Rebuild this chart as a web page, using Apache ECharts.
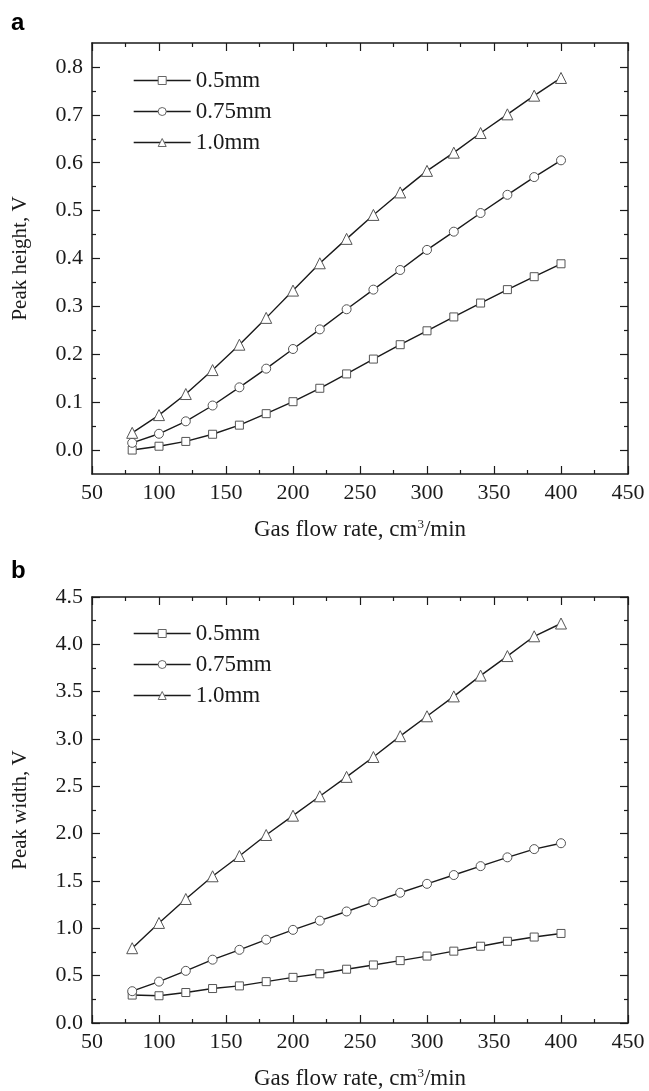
<!DOCTYPE html>
<html>
<head>
<meta charset="utf-8">
<script src="https://cdn.jsdelivr.net/npm/echarts@6/dist/echarts.min.js"></script>
<style>
  html, body { margin: 0; padding: 0; background: #fff; }
  #chart { width: 649px; height: 1091px; }
</style>
</head>
<body>
<div id="chart"></div>
<script>
// gas flow rate, cm3/min
const flowRates = [80, 100, 120, 140, 160, 180, 200, 220, 240, 260, 280, 300, 320, 340, 360, 380, 400];
const seriesNames = ['0.5mm', '0.75mm', '1.0mm'];

// panel a: peak height, V
const heightSmall = [0.0, 0.008, 0.018, 0.033, 0.052, 0.076, 0.101, 0.129, 0.159, 0.19, 0.22, 0.249, 0.278, 0.307, 0.335, 0.362, 0.389];
const heightMid = [0.015, 0.034, 0.06, 0.093, 0.131, 0.17, 0.211, 0.252, 0.294, 0.335, 0.376, 0.418, 0.456, 0.495, 0.533, 0.57, 0.605];
const heightLarge = [0.036, 0.073, 0.117, 0.167, 0.22, 0.276, 0.333, 0.39, 0.441, 0.491, 0.538, 0.583, 0.621, 0.662, 0.701, 0.74, 0.777];

// panel b: peak width, V
const widthSmall = [0.295, 0.288, 0.322, 0.364, 0.392, 0.437, 0.482, 0.52, 0.568, 0.613, 0.659, 0.707, 0.759, 0.811, 0.863, 0.908, 0.946];
const widthMid = [0.336, 0.437, 0.551, 0.669, 0.773, 0.88, 0.984, 1.081, 1.178, 1.276, 1.376, 1.47, 1.563, 1.657, 1.75, 1.837, 1.899];
const widthLarge = [0.79, 1.057, 1.31, 1.55, 1.764, 1.986, 2.19, 2.395, 2.6, 2.81, 3.03, 3.24, 3.45, 3.67, 3.876, 4.085, 4.22];

// tick labels
const heightTicks = [0.0, 0.1, 0.2, 0.3, 0.4, 0.5, 0.6, 0.7, 0.8];
const heightMinorTicks = [0.05, 0.15, 0.25, 0.35, 0.45, 0.55, 0.65, 0.75];

const serif = '"Liberation Serif", "DejaVu Serif", serif';
const ink = '#1a1a1a';
const symbols = [
  { symbol: 'rect', size: 8 },
  { symbol: 'circle', size: 9 },
  { symbol: 'triangle', size: 11 },
];

const chart = echarts.init(document.getElementById('chart'));

const gridA = { left: 92, top: 43, width: 536, height: 431 };
const gridB = { left: 92, top: 597, width: 536, height: 431 };

const axisLine = { show: true, onZero: false, lineStyle: { color: ink, width: 1.5 } };
const tickStyle = { color: ink, width: 1.2 };

function xAxis(gridIndex, position) {
  const bottom = position === 'bottom';
  return {
    type: 'value',
    gridIndex,
    position,
    min: 50,
    max: 450,
    interval: 50,
    axisLine,
    axisTick: { show: true, inside: true, length: 8, lineStyle: tickStyle },
    minorTick: { show: true, splitNumber: 2, length: 4, lineStyle: tickStyle },
    axisLabel: {
      show: bottom,
      margin: 8,
      color: ink,
      fontFamily: serif,
      fontSize: 22,
    },
    splitLine: { show: false },
    name: bottom ? 'Gas flow rate, cm{sup|3}/min' : '',
    nameLocation: 'middle',
    nameGap: 44,
    nameTextStyle: {
      color: ink,
      fontFamily: serif,
      fontSize: 23,
      rich: { sup: { fontFamily: serif, fontSize: 13, verticalAlign: 'top', color: ink } },
    },
  };
}

// panel a left/right axes: major ticks with labels, plus a minor-tick overlay
function heightAxis(position, minor) {
  const left = position === 'left';
  return {
    type: 'value',
    gridIndex: 0,
    position,
    min: -0.05,
    max: 0.85,
    axisLine: minor ? { show: false } : axisLine,
    axisTick: {
      show: true,
      inside: true,
      length: minor ? 4 : 8,
      lineStyle: tickStyle,
      customValues: minor ? heightMinorTicks : heightTicks,
    },
    axisLabel: {
      show: left && !minor,
      customValues: heightTicks,
      formatter: (v) => v.toFixed(1),
      margin: 9,
      color: ink,
      fontFamily: serif,
      fontSize: 22,
    },
    splitLine: { show: false },
    name: left && !minor ? 'Peak height, V' : '',
    nameLocation: 'middle',
    nameGap: 61,
    nameTextStyle: { color: ink, fontFamily: serif, fontSize: 21 },
  };
}

function widthAxis(position) {
  const left = position === 'left';
  return {
    type: 'value',
    gridIndex: 1,
    position,
    min: 0,
    max: 4.5,
    interval: 0.5,
    axisLine,
    axisTick: { show: true, inside: true, length: 8, lineStyle: tickStyle },
    minorTick: { show: true, splitNumber: 2, length: 4, lineStyle: tickStyle },
    axisLabel: {
      show: left,
      formatter: (v) => v.toFixed(1),
      margin: 9,
      color: ink,
      fontFamily: serif,
      fontSize: 22,
    },
    splitLine: { show: false },
    name: left ? 'Peak width, V' : '',
    nameLocation: 'middle',
    nameGap: 61,
    nameTextStyle: { color: ink, fontFamily: serif, fontSize: 21 },
  };
}

function lineSeries(name, idx, values, xAxisIndex, yAxisIndex) {
  return {
    type: 'line',
    name,
    xAxisIndex,
    yAxisIndex,
    data: flowRates.map((x, i) => [x, values[i]]),
    symbol: symbols[idx].symbol,
    symbolSize: symbols[idx].size,
    showAllSymbol: true,
    lineStyle: { color: ink, width: 1.4 },
    itemStyle: { color: '#fff', borderColor: '#555', borderWidth: 1 },
    emphasis: { disabled: true },
    animation: false,
  };
}

function legend(top) {
  return {
    orient: 'vertical',
    left: 128,
    top,
    itemWidth: 57,
    itemHeight: 10,
    itemGap: 8,
    data: seriesNames,
    itemStyle: { color: '#fff', borderColor: '#666', borderWidth: 1 },
    lineStyle: { color: ink, width: 1.4 },
    textStyle: { color: ink, fontFamily: serif, fontSize: 23, padding: [0, 0, 0, 0] },
    selectedMode: false,
  };
}

const option = {
  backgroundColor: '#fff',
  animation: false,
  grid: [gridA, gridB],
  xAxis: [xAxis(0, 'bottom'), xAxis(0, 'top'), xAxis(1, 'bottom'), xAxis(1, 'top')],
  yAxis: [
    heightAxis('left', false),
    heightAxis('left', true),
    heightAxis('right', false),
    heightAxis('right', true),
    widthAxis('left'),
    widthAxis('right'),
  ],
  legend: [legend(64), legend(617)],
  series: [
    lineSeries(seriesNames[0], 0, heightSmall, 0, 0),
    lineSeries(seriesNames[1], 1, heightMid, 0, 0),
    lineSeries(seriesNames[2], 2, heightLarge, 0, 0),
    lineSeries(seriesNames[0], 0, widthSmall, 2, 4),
    lineSeries(seriesNames[1], 1, widthMid, 2, 4),
    lineSeries(seriesNames[2], 2, widthLarge, 2, 4),
  ],
  graphic: [
    { type: 'text', left: 11, top: 11, style: { text: 'a', fontFamily: '"Liberation Sans", "DejaVu Sans", sans-serif', fontWeight: 'bold', fontSize: 24, fill: '#000' } },
    { type: 'text', left: 11, top: 559, style: { text: 'b', fontFamily: '"Liberation Sans", "DejaVu Sans", sans-serif', fontWeight: 'bold', fontSize: 24, fill: '#000' } },
  ],
};

chart.setOption(option);
</script>
</body>
</html>
